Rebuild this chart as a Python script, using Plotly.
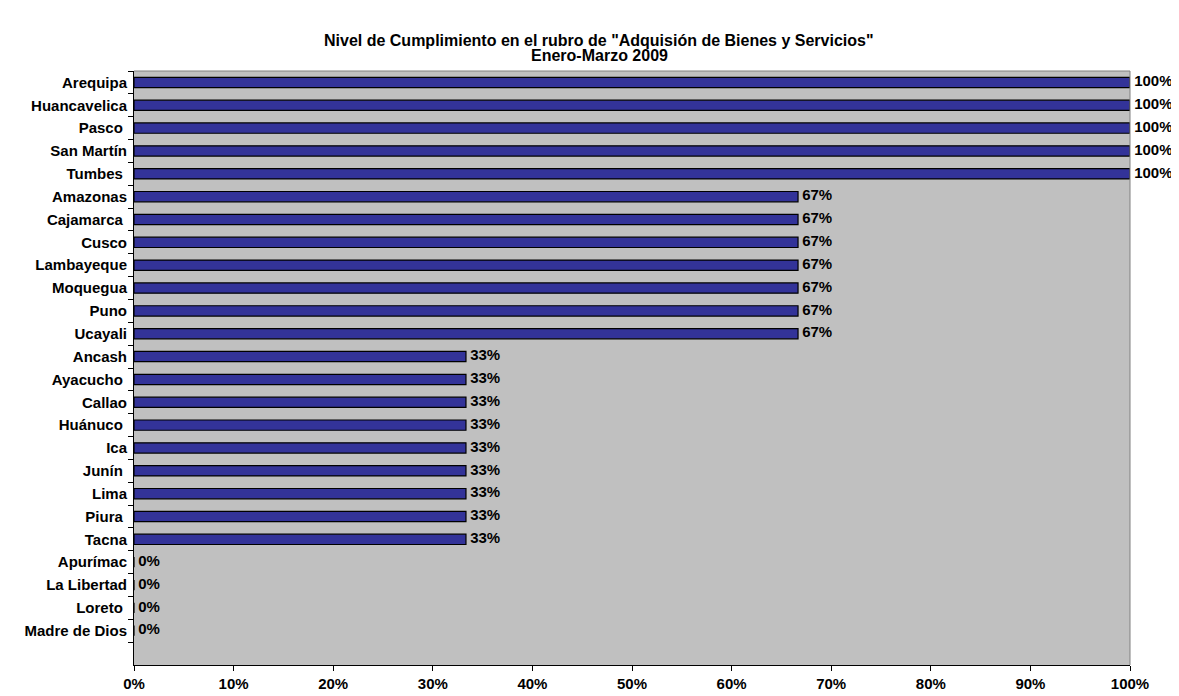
import plotly.graph_objects as go

# Regions and compliance levels (%), top to bottom as in the source chart
regiones = [
    "Arequipa", "Huancavelica", "Pasco\u00a0", "San Martín", "Tumbes\u00a0",
    "Amazonas", "Cajamarca\u00a0", "Cusco", "Lambayeque", "Moquegua", "Puno", "Ucayali",
    "Ancash", "Ayacucho\u00a0", "Callao", "Huánuco\u00a0", "Ica", "Junín\u00a0", "Lima",
    "Piura\u00a0", "Tacna",
    "Apurímac", "La Libertad", "Loreto\u00a0", "Madre de Dios",
]
cumplimiento = [
    100, 100, 100, 100, 100,
    66.67, 66.67, 66.67, 66.67, 66.67, 66.67, 66.67,
    33.33, 33.33, 33.33, 33.33, 33.33, 33.33, 33.33, 33.33, 33.33,
    0, 0, 0, 0,
]
etiquetas = [f"{round(v)}%" for v in cumplimiento]
x_ticks = [0, 10, 20, 30, 40, 50, 60, 70, 80, 90, 100]
titulo = ["Nivel de Cumplimiento en el rubro de \"Adquisión de Bienes y Servicios\"",
          "Enero-Marzo 2009"]

FONT = "Liberation Sans, Arial, sans-serif"
W, H = 1179, 696
# the page adds an 8px body margin, so the figure is shifted right/down by 8px
M = dict(l=126, r=57, t=63, b=39)
plot_w = W - M["l"] - M["r"]
plot_h = H - M["t"] - M["b"]

fig = go.Figure()

fig.add_trace(go.Bar(
    x=cumplimiento,
    y=regiones,
    orientation="h",
    width=0.45,
    marker=dict(color="#333399", line=dict(color="black", width=1.2)),
    hoverinfo="x+y",
))

# value labels to the right of each bar (also shown for 0%)
fig.add_trace(go.Scatter(
    x=cumplimiento,
    y=regiones,
    mode="text",
    text=[f"<b>\u00a0{t}</b>" for t in etiquetas],
    textposition="middle right",
    textfont=dict(family=FONT, size=15, color="black"),
    cliponaxis=False,
    hoverinfo="skip",
))

fig.update_layout(
    width=W,
    height=H,
    showlegend=False,
    paper_bgcolor="white",
    plot_bgcolor="#C0C0C0",
    margin=M,
    xaxis=dict(
        range=[0, 100],
        tickvals=x_ticks,
        ticktext=[f"<b>{v}%</b>" for v in x_ticks],
        ticks="outside",
        ticklen=5,
        tickcolor="black",
        showgrid=False,
        zeroline=False,
        showline=True,
        linecolor="black",
        automargin=False,
        tickfont=dict(family=FONT, size=15, color="black"),
    ),
    yaxis=dict(
        type="category",
        categoryorder="array",
        categoryarray=regiones,
        range=[25.5, -0.5],
        tickson="boundaries",
        ticks="outside",
        ticklen=5,
        tickcolor="black",
        showgrid=False,
        showline=True,
        linecolor="black",
        automargin=False,
        tickvals=regiones,
        ticktext=[f"<b>{r}</b>" for r in regiones],
        tickfont=dict(family=FONT, size=15, color="black"),
        ticklabelstandoff=3,
    ),
)

# two-line title, placed as annotations for tight line spacing
for i, linea in enumerate(titulo):
    y_px = 32 + 16 * i  # distance from top of figure
    fig.add_annotation(
        text=f"<b>{linea}</b>",
        xref="paper", yref="paper",
        x=(591 - M["l"]) / plot_w,
        y=1 + (M["t"] - y_px) / plot_h,
        xanchor="center", yanchor="middle",
        showarrow=False,
        font=dict(family=FONT, size=16, color="black"),
    )

# thin gray border on top and right of the plot area
fig.add_shape(type="line", xref="paper", yref="paper", x0=0, x1=1, y0=1, y1=1,
              line=dict(color="#808080", width=1))
fig.add_shape(type="line", xref="paper", yref="paper", x0=1, x1=1, y0=0, y1=1,
              line=dict(color="#808080", width=1))

fig.write_html("out.html")
